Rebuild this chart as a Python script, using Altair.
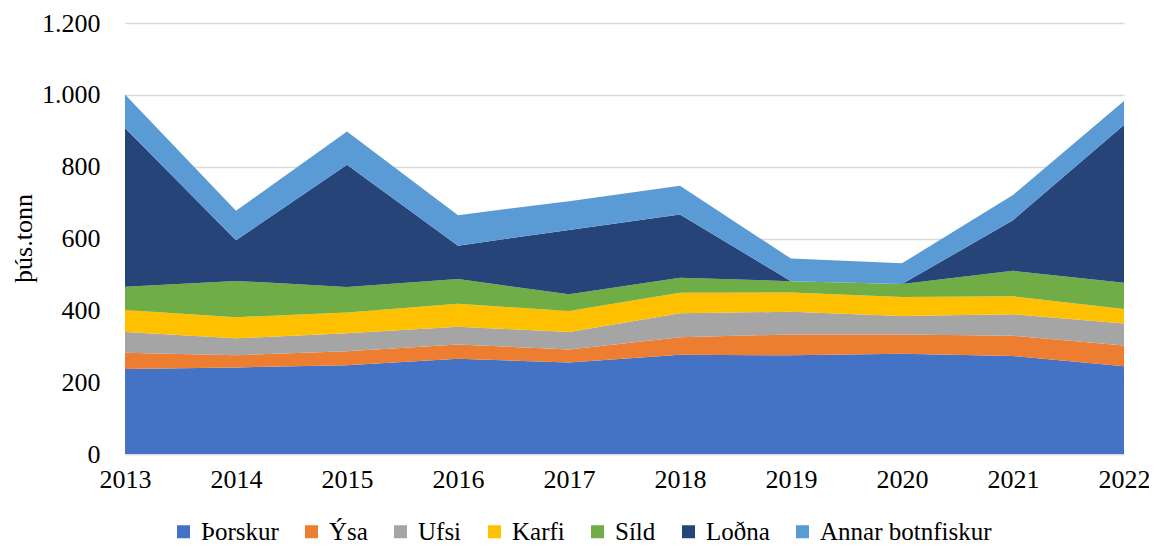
import altair as alt
import pandas as pd

years = [2013, 2014, 2015, 2016, 2017, 2018, 2019, 2020, 2021, 2022]
series_names = ["Þorskur", "Ýsa", "Ufsi", "Karfi", "Síld", "Loðna", "Annar botnfiskur"]
colors = ["#4472C4", "#ED7D31", "#A5A5A5", "#FFC000", "#70AD47", "#264478", "#5B9BD5"]

thorskur = [237, 241, 247, 265, 255, 276, 275, 279, 273, 244]
ysa = [45, 34, 39, 40, 36, 49, 58, 54, 56, 58]
ufsi = [58, 47, 50, 49, 49, 67, 63, 51, 60, 61]
karfi = [61, 59, 58, 64, 58, 57, 54, 53, 50, 41]
sild = [65, 101, 71, 69, 47, 42, 31, 36, 71, 73]
lodna = [442, 113, 340, 93, 179, 176, 0, 0, 141, 439]
annar = [93, 82, 93, 85, 80, 80, 63, 58, 70, 67]

y_ticks = [0, 200, 400, 600, 800, 1000, 1200]

values = [thorskur, ysa, ufsi, karfi, sild, lodna, annar]
rows = []
for idx, (name, vals) in enumerate(zip(series_names, values)):
    for yr, v in zip(years, vals):
        rows.append({"Ár": yr, "Tegund": name, "Afli": v, "idx": idx})
df = pd.DataFrame(rows)

FONT = "Liberation Serif"

chart = (
    alt.Chart(df)
    .mark_area(opacity=1)
    .encode(
        x=alt.X(
            "Ár:Q",
            scale=alt.Scale(domain=[years[0], years[-1]], nice=False),
            axis=alt.Axis(
                values=years,
                format="d",
                title=None,
                grid=False,
                ticks=False,
                domainColor="#D9D9D9",
                domainWidth=1.5,
                labelFont=FONT,
                labelFontSize=26,
                labelColor="#000000",
                labelPadding=12,
                labelFlush=False,
                labelOverlap=False,
            ),
        ),
        y=alt.Y(
            "Afli:Q",
            stack="zero",
            scale=alt.Scale(domain=[0, 1200], nice=False),
            axis=alt.Axis(
                values=y_ticks,
                labelExpr="replace(format(datum.value, ','), ',', '.')",
                title="þús.tonn",
                titleFont=FONT,
                titleFontSize=26,
                titleFontWeight="normal",
                titleColor="#000000",
                titleX=-102,
                titleY=215,
                titleBaseline="middle",
                titleAngle=270,
                grid=True,
                gridColor="#D9D9D9",
                gridWidth=1.5,
                domain=False,
                ticks=False,
                labelFont=FONT,
                labelFontSize=26,
                labelColor="#000000",
                labelPadding=25,
            ),
        ),
        color=alt.Color(
            "Tegund:N",
            scale=alt.Scale(domain=series_names, range=colors),
            sort=series_names,
            legend=alt.Legend(
                title=None,
                orient="none",
                direction="horizontal",
                legendX=46,
                legendY=496,
                symbolType="square",
                symbolSize=169,
                symbolStrokeWidth=0,
                symbolOpacity=1,
                labelFont=FONT,
                labelFontSize=25,
                labelColor="#000000",
                labelOffset=5,
                columnPadding=20,
                padding=0,
                labelLimit=400,
            ),
        ),
        order=alt.Order("idx:Q", sort="ascending"),
    )
    .properties(
        width=999,
        height=431,
        padding={"left": 117, "top": 15, "right": 25, "bottom": 92},
        autosize=alt.AutoSizeParams(type="none"),
    )
    .configure(background="white", font=FONT)
    .configure_view(stroke=None)
)

chart.save("out.html", embed_options={"renderer": "svg", "actions": False})
